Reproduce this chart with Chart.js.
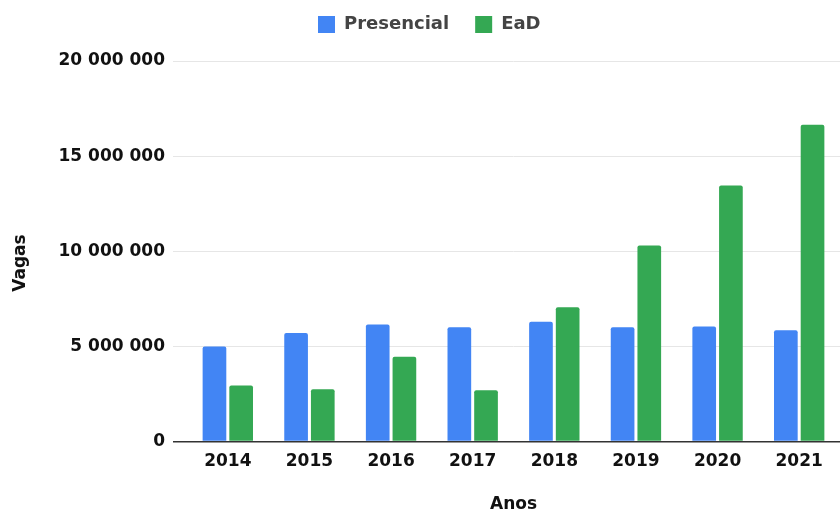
<!DOCTYPE html>
<html>
<head>
<meta charset="utf-8">
<script src="https://cdn.jsdelivr.net/npm/chart.js@4/dist/chart.umd.min.js"></script>
<style>
  html, body { margin: 0; padding: 0; background: #fff; }
  #wrap { width: 840px; height: 513px; }
</style>
</head>
<body>
<div id="wrap"><canvas id="vagasChart"></canvas></div>
<script>
// Values (vagas por ano)
const anos = ['2014', '2015', '2016', '2017', '2018', '2019', '2020', '2021'];
const presencial = [5000000, 5700000, 6150000, 6000000, 6300000, 6000000, 6050000, 5850000];
const ead = [2950000, 2750000, 4450000, 2700000, 7050000, 10300000, 13450000, 16650000];
const yTicks = [0, 5000000, 10000000, 15000000, 20000000];

const fontFamily = '"DejaVu Sans", "Liberation Sans", Arial, sans-serif';

// 20000000 -> "20 000 000"
function formatNumber(value) {
  return String(value).replace(/\B(?=(\d{3})+(?!\d))/g, ' ');
}

// Move the legend up and to the left, like in the reference
const legendPlacer = {
  id: 'legendPlacer',
  afterLayout(chart) {
    const legend = chart.legend;
    if (!legend) return;
    const w = legend.width;
    const h = legend.height;
    legend.left = 292;
    legend.right = legend.left + w;
    legend.top = -10.5;
    legend.bottom = legend.top + h;
  }
};

const ctx = document.getElementById('vagasChart').getContext('2d');
new Chart(ctx, {
  type: 'bar',
  data: {
    labels: anos,
    datasets: [
      {
        label: 'Presencial',
        data: presencial,
        backgroundColor: '#4285F4',
        borderRadius: 2,
        borderSkipped: 'start',
        categoryPercentage: 0.654,
        barPercentage: 0.887
      },
      {
        label: 'EaD',
        data: ead,
        backgroundColor: '#34A853',
        borderRadius: 2,
        borderSkipped: 'start',
        categoryPercentage: 0.654,
        barPercentage: 0.887
      }
    ]
  },
  options: {
    responsive: true,
    maintainAspectRatio: false,
    animation: false,
    layout: { padding: { top: 7, left: 0, right: 0, bottom: 0 } },
    plugins: {
      tooltip: { enabled: false },
      legend: {
        position: 'top',
        align: 'start',
        labels: {
          boxWidth: 17,
          boxHeight: 17,
          padding: 26,
          color: '#444',
          font: { family: fontFamily, size: 18, weight: 'bold' }
        }
      }
    },
    scales: {
      x: {
        grid: { display: false, drawTicks: false },
        border: { display: false },
        ticks: {
          padding: 10,
          color: '#111',
          font: { family: fontFamily, size: 17, weight: 'bold' }
        },
        title: {
          display: true,
          text: 'Anos',
          color: '#111',
          padding: { top: 0, bottom: 0 },
          font: { family: fontFamily, size: 17, weight: 'bold', lineHeight: 1 }
        },
        afterFit: scale => { scale.height = 71.5; }
      },
      y: {
        min: 0,
        max: 20000000,
        afterBuildTicks: scale => {
          scale.ticks = yTicks.map(v => ({ value: v }));
        },
        grid: {
          drawTicks: true,
          tickLength: 14,
          color: c => (c.tick && c.tick.value === 0 ? '#333' : '#e6e6e6'),
          tickColor: c => (c.tick && c.tick.value === 0 ? '#333' : '#e6e6e6'),
          lineWidth: c => (c.tick && c.tick.value === 0 ? 1.5 : 1)
        },
        border: { display: false },
        ticks: {
          padding: 8,
          color: '#111',
          font: { family: fontFamily, size: 17, weight: 'bold' },
          callback: value => formatNumber(value)
        },
        title: {
          display: true,
          // trailing spaces push the word a bit down, as in the picture
          text: 'Vagas\u00a0\u00a0\u00a0\u00a0',
          color: '#111',
          padding: { top: 12, bottom: 0 },
          font: { family: fontFamily, size: 17, weight: 'bold', lineHeight: 1 }
        },
        afterFit: scale => { scale.width = 187; }
      }
    }
  },
  plugins: [legendPlacer]
});
</script>
</body>
</html>
